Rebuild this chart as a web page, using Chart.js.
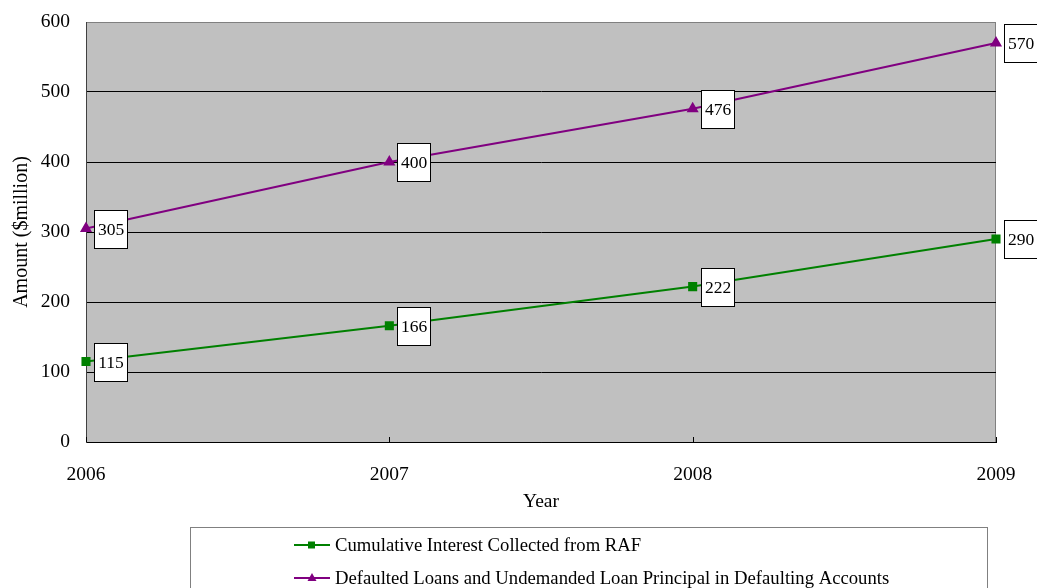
<!DOCTYPE html>
<html>
<head>
<meta charset="utf-8">
<script src="https://cdn.jsdelivr.net/npm/chart.js@4"></script>
<style>
  html, body { margin: 0; padding: 0; background: #fff; }
  #wrap { width: 1037px; height: 588px; }
</style>
</head>
<body>
<div id="wrap"><canvas id="chart"></canvas></div>
<script>
// Dati del grafico
const years = ['2006', '2007', '2008', '2009'];
const interestCollected = [115, 166, 222, 290];
const defaultedLoans = [305, 400, 476, 570];
const yTicks = [0, 100, 200, 300, 400, 500, 600];

const FONT = 'Liberation Serif, Times New Roman, serif';

// Sfondo grigio dell'area del grafico
const plotBackground = {
    id: 'plotBackground',
    beforeDraw(chart) {
        const { ctx, chartArea: a } = chart;
        ctx.save();
        ctx.fillStyle = '#C0C0C0';
        ctx.fillRect(a.left, a.top, a.right - a.left, a.bottom - a.top);
        ctx.strokeStyle = '#808080';
        ctx.lineWidth = 1;
        ctx.strokeRect(a.left + 0.5, a.top + 0.5, a.right - a.left - 1, a.bottom - a.top);
        ctx.restore();
    },
    beforeDatasetsDraw(chart) {
        // piccoli tick interni sull'asse x
        const { ctx, chartArea: a, scales } = chart;
        ctx.save();
        ctx.strokeStyle = '#000';
        ctx.lineWidth = 1;
        years.forEach((y, i) => {
            const x = Math.round(scales.x.getPixelForValue(i)) + 0.5;
            ctx.beginPath();
            ctx.moveTo(x, a.bottom);
            ctx.lineTo(x, a.bottom - 5);
            ctx.stroke();
        });
        ctx.restore();
    }
};

// Etichette dei valori in riquadri bianchi
const valueBoxes = {
    id: 'valueBoxes',
    afterDatasetsDraw(chart) {
        const { ctx } = chart;
        ctx.save();
        ctx.font = '17.5px ' + FONT;
        ctx.textAlign = 'center';
        ctx.textBaseline = 'middle';
        chart.data.datasets.forEach((ds, di) => {
            const meta = chart.getDatasetMeta(di);
            meta.data.forEach((pt, i) => {
                const bx = Math.round(pt.x) + 8.5;
                const by = Math.round(pt.y - 19) + 0.5;
                ctx.fillStyle = '#fff';
                ctx.fillRect(bx, by, 33, 38);
                ctx.strokeStyle = '#000';
                ctx.lineWidth = 1;
                ctx.strokeRect(bx, by, 33, 38);
                ctx.fillStyle = '#000';
                ctx.fillText(String(ds.data[i]), bx + 16.5, by + 20);
            });
        });
        ctx.restore();
    }
};

// Legenda in un riquadro sotto il grafico
const boxLegend = {
    id: 'boxLegend',
    afterDraw(chart) {
        const { ctx } = chart;
        ctx.save();
        ctx.strokeStyle = '#808080';
        ctx.lineWidth = 1;
        ctx.strokeRect(190.5, 527.5, 797, 80);
        const rows = [545, 578];
        chart.data.datasets.forEach((ds, i) => {
            const y = rows[i];
            ctx.strokeStyle = ds.borderColor;
            ctx.lineWidth = 2;
            ctx.beginPath();
            ctx.moveTo(294, y);
            ctx.lineTo(330, y);
            ctx.stroke();
            ctx.fillStyle = ds.borderColor;
            if (ds.pointStyle === 'rect') {
                ctx.fillRect(308, y - 3.5, 7, 7);
            } else {
                ctx.beginPath();
                ctx.moveTo(312, y - 5);
                ctx.lineTo(316.5, y + 3);
                ctx.lineTo(307.5, y + 3);
                ctx.closePath();
                ctx.fill();
            }
            ctx.fillStyle = '#000';
            ctx.font = '18.7px ' + FONT;
            ctx.textAlign = 'left';
            ctx.textBaseline = 'middle';
            ctx.fillText(ds.label, 335, y + 1);
        });
        ctx.restore();
    }
};

const chart = new Chart(document.getElementById('chart').getContext('2d'), {
    type: 'line',
    data: {
        labels: years,
        datasets: [{
            label: 'Cumulative Interest Collected from RAF',
            data: interestCollected,
            borderColor: '#008000',
            backgroundColor: '#008000',
            borderWidth: 2,
            pointStyle: 'rect',
            pointRadius: 5,
            fill: false
        }, {
            label: 'Defaulted Loans and Undemanded Loan Principal in Defaulting Accounts',
            data: defaultedLoans,
            borderColor: '#800080',
            backgroundColor: '#800080',
            borderWidth: 2,
            pointStyle: 'triangle',
            pointRadius: 5,
            fill: false
        }]
    },
    options: {
        responsive: true,
        maintainAspectRatio: false,
        animation: false,
        layout: { padding: { top: 22, right: 41, bottom: 74, left: 0 } },
        plugins: {
            legend: { display: false },
            tooltip: { enabled: false }
        },
        elements: { line: { tension: 0 } },
        scales: {
            x: {
                offset: false,
                afterFit(scale) {
                    scale.height = 72;
                    scale.paddingLeft = 0;
                    scale.paddingRight = 0;
                },
                grid: { display: false, drawTicks: false },
                border: { color: '#000', width: 1 },
                ticks: { color: '#000', font: { family: FONT, size: 19.5 }, padding: 21, maxRotation: 0 },
                title: { display: true, text: 'Year', color: '#000', font: { family: FONT, size: 19.5 }, padding: { top: 0, bottom: 0 } }
            },
            y: {
                min: 0,
                max: 600,
                afterFit(scale) {
                    scale.width = 86;
                    scale.paddingTop = 0;
                    scale.paddingBottom = 0;
                },
                afterBuildTicks(scale) { scale.ticks = yTicks.map(v => ({ value: v })); },
                grid: {
                    drawTicks: false,
                    color: ctx => (ctx.tick && ctx.tick.value === 600) ? '#808080' : '#000'
                },
                border: { color: '#404040', width: 1 },
                ticks: { color: '#000', font: { family: FONT, size: 19.5 }, padding: 16 },
                title: { display: true, text: 'Amount ($million)', color: '#000', font: { family: FONT, size: 20 }, padding: { top: 10, bottom: 0 } }
            }
        }
    },
    plugins: [plotBackground, valueBoxes, boxLegend]
});
</script>
</body>
</html>
